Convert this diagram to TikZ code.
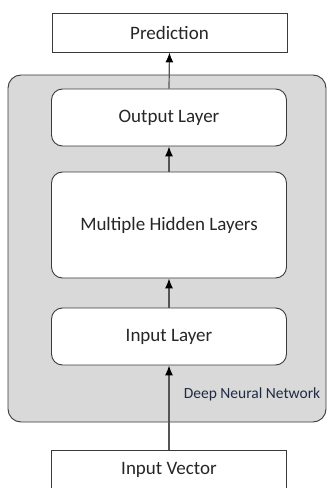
\documentclass[tikz,border=0pt]{standalone}
\usepackage{fontspec}
\setmainfont{Carlito}
\usetikzlibrary{arrows.meta}
\definecolor{txt}{HTML}{262626}
\definecolor{lbl}{HTML}{1F2A44}
\definecolor{bord}{HTML}{3A3A3A}
\definecolor{fillg}{HTML}{D9D9D9}
\definecolor{arr}{HTML}{555555}
\begin{document}
\begin{tikzpicture}[x=1bp,y=-1bp,
  plainbox/.style={draw=bord,line width=0.9bp,fill=white,minimum width=235bp,inner sep=0pt,
    font=\fontsize{19bp}{21bp}\selectfont,text=txt},
  layerbox/.style={plainbox,rounded corners=11bp},
  conn/.style={draw=arr,line width=1.2bp,-{Latex[length=10bp,width=8bp,color=black]}}]
\useasboundingbox (0,0) rectangle (329,488);
\clip (0,0) rectangle (329,488);
\fill[white] (0,0) rectangle (329,488);
\draw[draw=bord,line width=0.9bp,fill=fillg,rounded corners=13bp] (8,75) rectangle (326,422);
\node[plainbox,minimum height=39bp] (pred) at (169.5,32.5) {Prediction};
\node[layerbox,minimum height=57bp] (out) at (169,117.5) {Output Layer};
\node[layerbox,minimum height=106bp] (hid) at (169,225) {Multiple Hidden Layers};
\node[layerbox,minimum height=57bp] (inl) at (169,336.5) {Input Layer};
\node[plainbox,minimum height=40bp] (vec) at (169,470) {Input Vector};
\node[font=\fontsize{15.5bp}{17bp}\selectfont,text=lbl] (dnn) at (252,394) {Deep Neural Network};
\draw[conn] (vec.north) -- (inl.south);
\draw[conn] (inl.north) -- (hid.south);
\draw[conn] (hid.north) -- (out.south);
\draw[conn] (out.north) -- (pred.south);
\end{tikzpicture}
\end{document}
